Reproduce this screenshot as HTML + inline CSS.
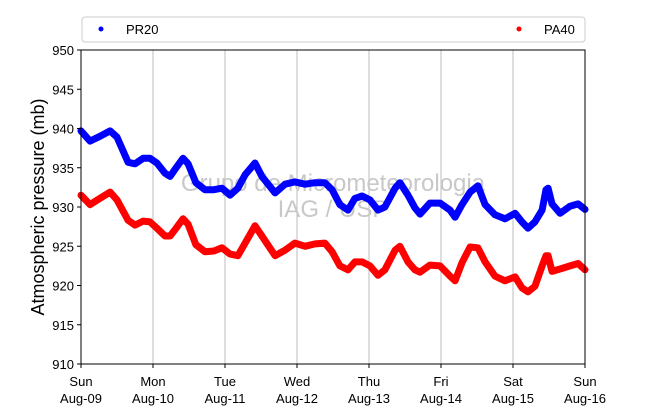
<!DOCTYPE html>
<html><head><meta charset="utf-8"><style>
body{margin:0;background:#fff;font-family:"Liberation Sans",sans-serif}
svg text{font-family:"Liberation Sans",sans-serif}
</style></head><body>
<svg id="chart" width="650" height="409" xmlns="http://www.w3.org/2000/svg">
<g id="grid"></g>
<g id="wm">
<text x="333" y="191" text-anchor="middle" font-size="24" fill="#c8c8c8">Grupo de Micrometeorologia</text>
<text x="333" y="217" text-anchor="middle" font-size="24" fill="#c8c8c8">IAG / USP</text>
</g>
<g id="series"></g>
<rect x="81" y="50" width="504" height="314" fill="none" stroke="#000" stroke-width="1"/>
<g id="axes"></g>
<text transform="translate(44,207) rotate(-90)" text-anchor="middle" font-size="18">Atmospheric pressure (mb)</text>
<g>
<rect x="82" y="17" width="503" height="25" rx="3" fill="#fff" stroke="#ccc"/>
<circle cx="101" cy="29" r="2.5" fill="#0000ff"/>
<text x="126" y="34" font-size="13">PR20</text>
<circle cx="519" cy="29" r="2.5" fill="#ff0000"/>
<text x="544" y="34" font-size="13">PA40</text>
</g>
</svg>
<script>
const hours=[0,3,6.3,9.7,12,15.7,18,20.7,23,25.3,28,29.7,31.7,34,35.7,38.3,41.3,44.3,47,49.7,52.3,54.7,58,60.3,64.7,68,71.3,74.7,78,81.3,83.7,86.3,89,91.3,93.7,96.3,99,101.3,104.7,106.3,109,111.3,113,116.3,119.7,123,124.7,127,129.7,132.3,134.7,138,141.3,144.7,147,149,151.3,153.7,155,155.7,157,159.7,163,165.7,168];
const pr20=[939.7,938.4,939.0,939.7,938.9,935.7,935.5,936.2,936.2,935.6,934.3,933.9,935.0,936.2,935.5,933.1,932.2,932.2,932.4,931.5,932.4,934.1,935.6,933.9,931.8,932.9,933.2,932.9,933.1,933.1,932.2,930.3,929.6,931.1,931.4,930.9,929.6,930.0,932.4,933.1,931.5,929.9,929.1,930.5,930.5,929.6,928.7,930.3,931.9,932.7,930.3,929.0,928.5,929.2,928.1,927.3,928.1,929.6,932.2,932.4,930.4,929.2,930.1,930.4,929.7];
const pa40=[931.5,930.3,931.1,931.9,930.9,928.3,927.7,928.2,928.1,927.3,926.3,926.3,927.3,928.5,927.8,925.2,924.3,924.4,924.8,924.0,923.8,925.4,927.6,926.3,923.8,924.5,925.4,925.0,925.3,925.4,924.3,922.5,922.0,923.0,923.0,922.5,921.3,922.0,924.5,925.0,923.0,922.0,921.7,922.6,922.5,921.2,920.6,922.9,924.9,924.8,923.0,921.2,920.6,921.1,919.7,919.2,919.9,922.5,923.8,923.8,921.8,922.1,922.5,922.8,922.0];
const yTicks=[910,915,920,925,930,935,940,945,950];
const dayNames=["Sun","Mon","Tue","Wed","Thu","Fri","Sat","Sun"];
const dayDates=["Aug-09","Aug-10","Aug-11","Aug-12","Aug-13","Aug-14","Aug-15","Aug-16"];
const X0=81,X1=585,Y0=364,Y1=50;
const xs=h=>X0+(X1-X0)*h/168;
const ys=v=>Y0-(Y0-Y1)*(v-910)/40;
const NS="http://www.w3.org/2000/svg";
function mk(t,a,p){const e=document.createElementNS(NS,t);for(const k in a)e.setAttribute(k,a[k]);p.appendChild(e);return e;}
const grid=document.getElementById('grid'),axes=document.getElementById('axes'),ser=document.getElementById('series');
dayNames.forEach((d,i)=>{
  const x=xs(i*24);
  if(i>0&&i<7){const g=mk('line',{x1:x,x2:x,y1:Y1,y2:Y0,stroke:'#bdbdbd','stroke-width':1},grid);
  
  }
  const t=mk('line',{x1:x,x2:x,y1:Y0,y2:Y0+4,stroke:'#000'},axes);
  
  
  const l=mk('text',{x:x,y:386,'text-anchor':'middle','font-size':13},axes);
  
  
  l.textContent=d;
  const l2=mk('text',{x:x,y:403,'text-anchor':'middle','font-size':13},axes);
  
  
  l2.textContent=dayDates[i];
});
yTicks.forEach(v=>{
  const y=ys(v);
  const t=mk('line',{x1:X0-4,x2:X0,y1:y,y2:y,stroke:'#000'},axes);
  
  
  const l=mk('text',{x:X0-7,y:y+5,'text-anchor':'end','font-size':13},axes);
  
  
  l.textContent=v;
});
function line(vals,color,name){
  const d=vals.map((v,i)=>(i?'L':'M')+xs(hours[i]).toFixed(1)+','+ys(v).toFixed(1)).join('');
  const p=mk('path',{d:d,fill:'none',stroke:color,'stroke-width':7,'stroke-linejoin':'round','stroke-linecap':'round'},ser);
  
  
}
line(pr20,'#0000ff','series-pr20');
line(pa40,'#ff0000','series-pa40');
</script>
</body></html>
